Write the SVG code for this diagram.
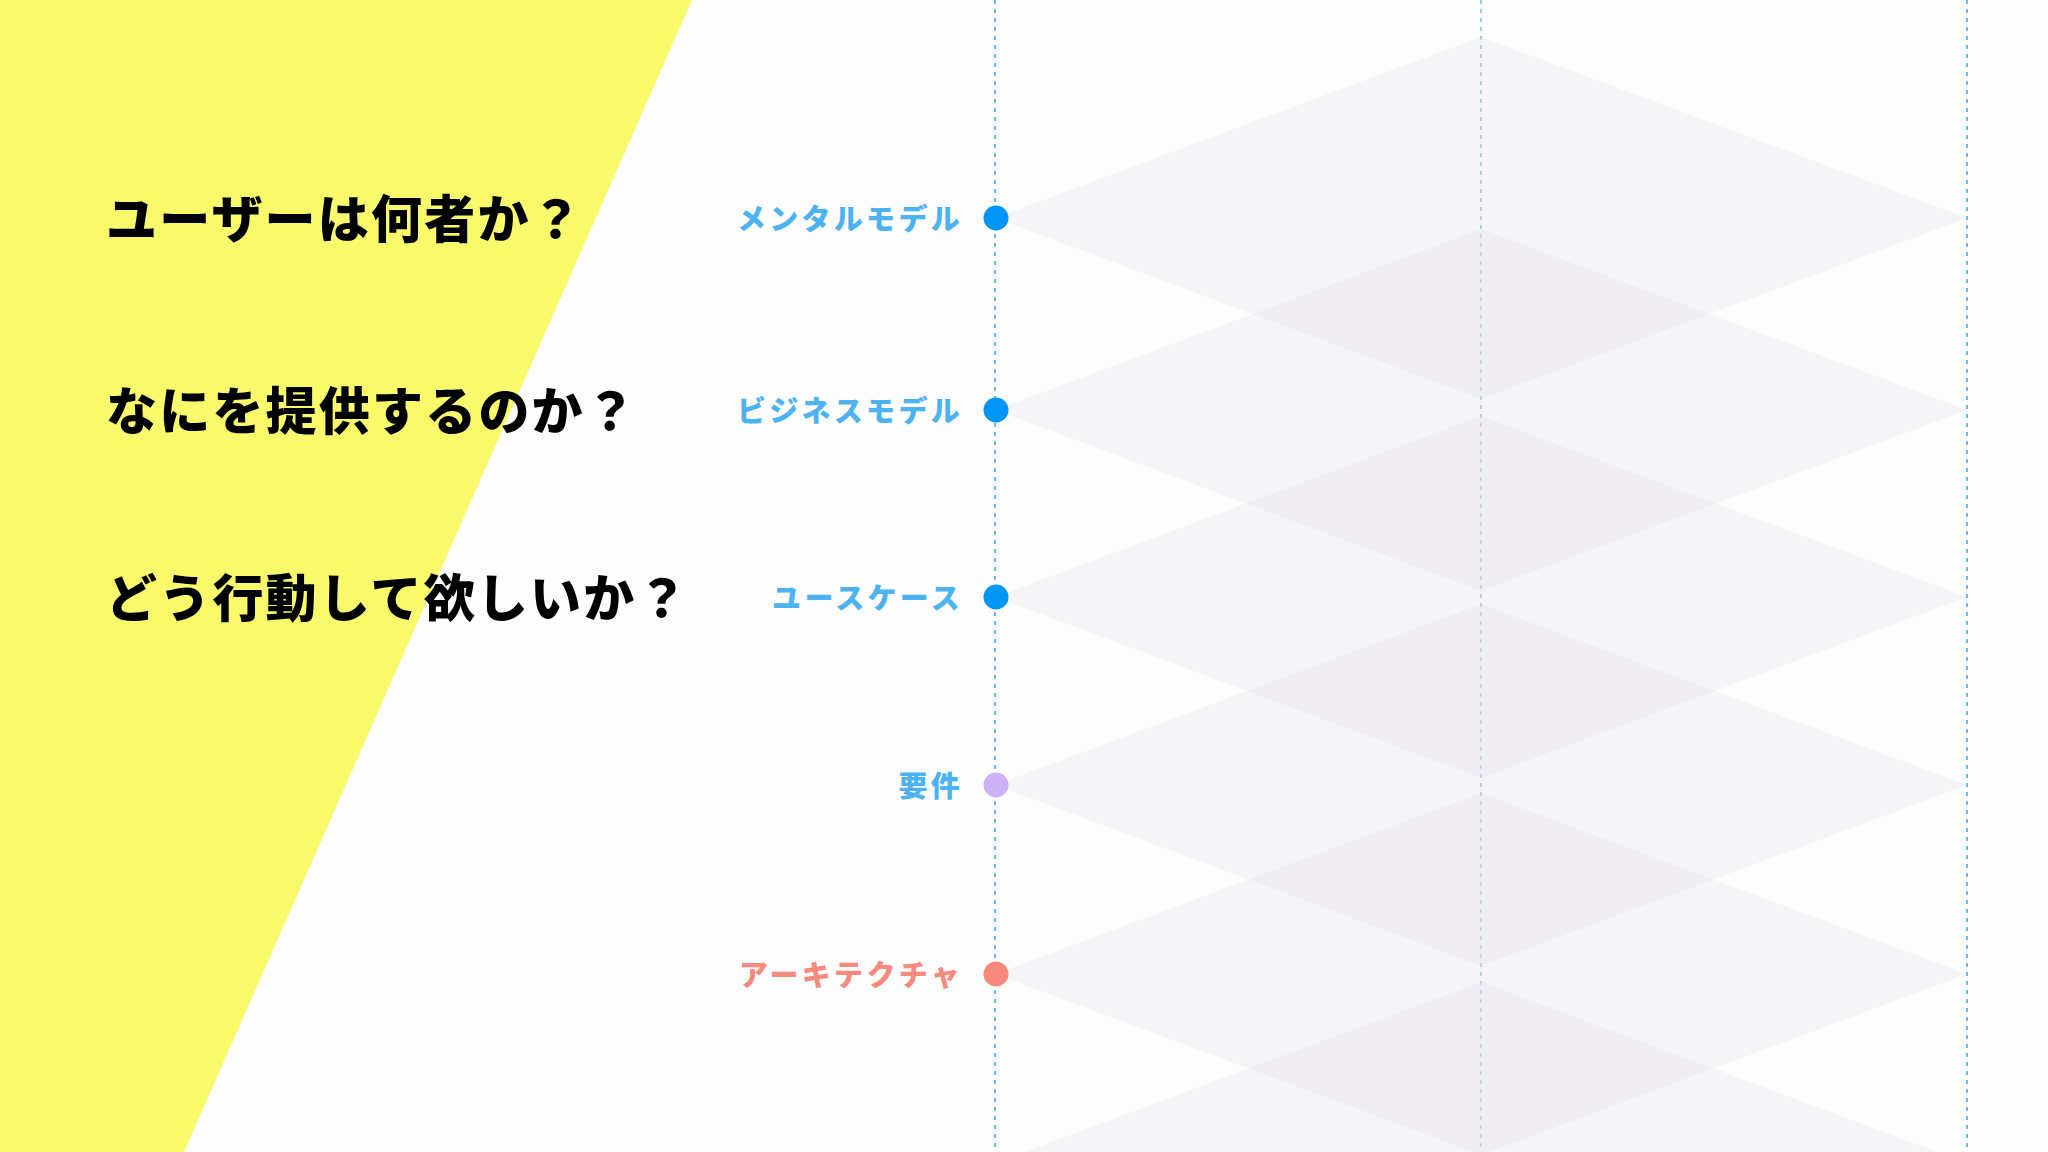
<svg xmlns="http://www.w3.org/2000/svg" width="2048" height="1152" viewBox="0 0 2048 1152">
  <style>
    .q { font-family: "Noto Sans CJK JP", "Noto Sans", sans-serif; font-weight: 900; font-size: 51px; letter-spacing: 2.2px; fill: #000000; }
    .lbl { font-family: "Noto Sans CJK JP", "Noto Sans", sans-serif; font-weight: 900; font-size: 29px; letter-spacing: 3.3px; text-anchor: end; fill: #4DB3F0; }
    .lbl.arch { fill: #F58A7E; }
    .vline { stroke: #6BBCEA; stroke-width: 2; stroke-dasharray: 4 5; fill: none; }
    .vline.mid { stroke-opacity: 0.75; }
    .dia { fill: #E7E5EC; fill-opacity: 0.33; }
  </style>
  <defs>
    <polygon id="diamond" points="995,0 1481,-181 1967,0 1481,181"/>
  </defs>
  <rect x="0" y="0" width="2048" height="1152" fill="#FDFDFD"/>
  <polygon id="yellow-band" points="0,0 692,0 184,1152 0,1152" fill="#F9FA6B"/>

  <g id="connectors">
    <line class="vline" x1="995" y1="0" x2="995" y2="1152"/>
    <line class="vline mid" x1="1481" y1="0" x2="1481" y2="1152"/>
    <line class="vline" x1="1967" y1="0" x2="1967" y2="1152"/>
  </g>

  <g id="diamonds">
    <use href="#diamond" class="dia" y="218"/>
    <use href="#diamond" class="dia" y="410"/>
    <use href="#diamond" class="dia" y="597"/>
    <use href="#diamond" class="dia" y="785"/>
    <use href="#diamond" class="dia" y="974"/>
    <use href="#diamond" class="dia" y="1163"/>
  </g>

  <g id="questions">
    <text id="q1" class="q" x="106" y="238">ユーザーは何者か？</text>
    <text id="q2" class="q" x="106" y="430">なにを提供するのか？</text>
    <text id="q3" class="q" x="106" y="617">どう行動して欲しいか？</text>
  </g>

  <g id="node-mental-model">
    <text class="lbl" x="963" y="230">メンタルモデル</text>
    <circle cx="996" cy="218" r="12.5" fill="#0096F6"/>
  </g>
  <g id="node-business-model">
    <text class="lbl" x="963" y="422">ビジネスモデル</text>
    <circle cx="996" cy="410" r="12.5" fill="#0096F6"/>
  </g>
  <g id="node-usecase">
    <text class="lbl" x="963" y="609">ユースケース</text>
    <circle cx="996" cy="597" r="12.5" fill="#0096F6"/>
  </g>
  <g id="node-requirements">
    <text class="lbl" x="963" y="797">要件</text>
    <circle cx="996" cy="785" r="12.5" fill="#CDB2F7"/>
  </g>
  <g id="node-architecture">
    <text class="lbl arch" x="963" y="986">アーキテクチャ</text>
    <circle cx="996" cy="974" r="12.5" fill="#F88A7E"/>
  </g>
</svg>
